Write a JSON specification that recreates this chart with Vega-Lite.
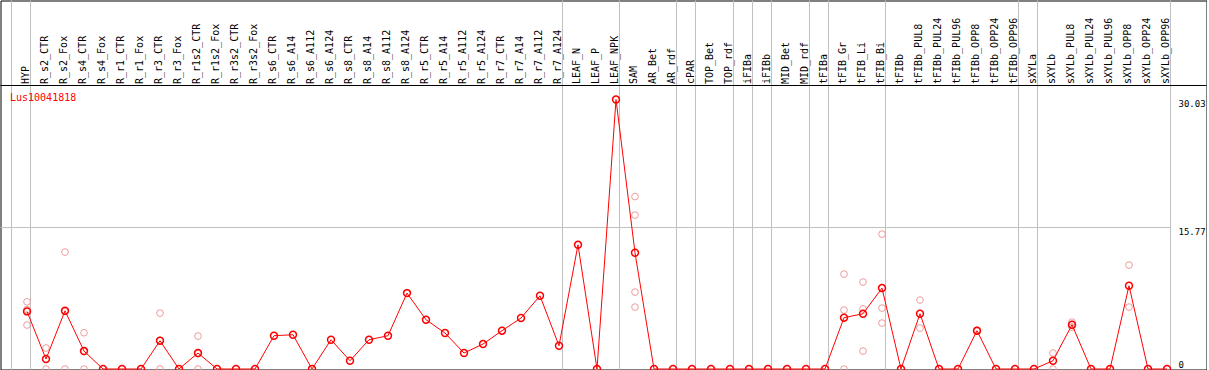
{
  "$schema": "https://vega.github.io/schema/vega-lite/v6.json",
  "autosize": "none",
  "padding": {"left": 0.5, "top": 0.5, "right": 0, "bottom": 0},
  "width": 1206,
  "height": 369,
  "background": "white",
  "title": {"text": "Lus10041818", "anchor": "start", "frame": "group", "orient": "top", "offset": -103, "baseline": "top", "color": "#ff0000", "font": "DejaVu Sans Mono", "fontSize": 10, "fontWeight": "normal", "dx": 9.5},
  "config": {"view": {"stroke": "#000000", "strokeWidth": 1}},
  "datasets": {
    "cats": [
      {"cat": "HYP"}, {"cat": "R_s2_CTR"}, {"cat": "LEAF_N"}, {"cat": "SAM"}, {"cat": "cPAR"}, {"cat": "TOP_Bet"}, {"cat": "iFIBa"}, {"cat": "iFIBb"}, {"cat": "MID_Bet"}, {"cat": "tFIBa"}, {"cat": "tFIB_Gr"}, {"cat": "tFIBb"}, {"cat": "sXYLa"}, {"cat": "sXYLb"}
    ],
    "means": [
      {"cat": "HYP", "v": 6.42}, {"cat": "R_s2_CTR", "v": 1.11}, {"cat": "R_s2_Fox", "v": 6.49}, {"cat": "R_s4_CTR", "v": 2.0}, {"cat": "R_s4_Fox", "v": 0}, {"cat": "R_r1_CTR", "v": 0}, {"cat": "R_r1_Fox", "v": 0}, {"cat": "R_r3_CTR", "v": 3.15}, {"cat": "R_r3_Fox", "v": 0}, {"cat": "R_r1s2_CTR", "v": 1.78}, {"cat": "R_r1s2_Fox", "v": 0}, {"cat": "R_r3s2_CTR", "v": 0}, {"cat": "R_r3s2_Fox", "v": 0},
      {"cat": "R_s6_CTR", "v": 3.71}, {"cat": "R_s6_A14", "v": 3.82}, {"cat": "R_s6_A112", "v": 0}, {"cat": "R_s6_A124", "v": 3.26},
      {"cat": "R_s8_CTR", "v": 0.92}, {"cat": "R_s8_A14", "v": 3.26}, {"cat": "R_s8_A112", "v": 3.71}, {"cat": "R_s8_A124", "v": 8.46},
      {"cat": "R_r5_CTR", "v": 5.49}, {"cat": "R_r5_A14", "v": 4.01}, {"cat": "R_r5_A112", "v": 1.78}, {"cat": "R_r5_A124", "v": 2.78},
      {"cat": "R_r7_CTR", "v": 4.27}, {"cat": "R_r7_A14", "v": 5.68}, {"cat": "R_r7_A112", "v": 8.16}, {"cat": "R_r7_A124", "v": 2.59},
      {"cat": "LEAF_N", "v": 13.84}, {"cat": "LEAF_P", "v": 0}, {"cat": "LEAF_NPK", "v": 30.03},
      {"cat": "SAM", "v": 12.96}, {"cat": "AR_Bet", "v": 0}, {"cat": "AR_rdf", "v": 0}, {"cat": "cPAR", "v": 0}, {"cat": "TOP_Bet", "v": 0}, {"cat": "TOP_rdf", "v": 0},
      {"cat": "iFIBa", "v": 0}, {"cat": "iFIBb", "v": 0}, {"cat": "MID_Bet", "v": 0}, {"cat": "MID_rdf", "v": 0}, {"cat": "tFIBa", "v": 0},
      {"cat": "tFIB_Gr", "v": 5.72}, {"cat": "tFIB_Li", "v": 6.16}, {"cat": "tFIB_Bi", "v": 9.02},
      {"cat": "tFIBb", "v": 0}, {"cat": "tFIBb_PUL8", "v": 6.16}, {"cat": "tFIBb_PUL24", "v": 0}, {"cat": "tFIBb_PUL96", "v": 0}, {"cat": "tFIBb_OPP8", "v": 4.27}, {"cat": "tFIBb_OPP24", "v": 0}, {"cat": "tFIBb_OPP96", "v": 0},
      {"cat": "sXYLa", "v": 0}, {"cat": "sXYLb", "v": 0.92}, {"cat": "sXYLb_PUL8", "v": 4.93}, {"cat": "sXYLb_PUL24", "v": 0}, {"cat": "sXYLb_PUL96", "v": 0}, {"cat": "sXYLb_OPP8", "v": 9.28}, {"cat": "sXYLb_OPP24", "v": 0}, {"cat": "sXYLb_OPP96", "v": 0}
    ],
    "reps": [
      {"cat": "HYP", "v": 7.49}, {"cat": "HYP", "v": 6.62}, {"cat": "HYP", "v": 4.9},
      {"cat": "R_s2_CTR", "v": 2.34}, {"cat": "R_s2_CTR", "v": 0},
      {"cat": "R_s2_Fox", "v": 13.03}, {"cat": "R_s2_Fox", "v": 0}, {"cat": "R_s2_Fox", "v": 6.4},
      {"cat": "R_s4_CTR", "v": 4.04}, {"cat": "R_s4_CTR", "v": 0}, {"cat": "R_s4_CTR", "v": 1.95},
      {"cat": "R_r3_CTR", "v": 6.23}, {"cat": "R_r3_CTR", "v": 0}, {"cat": "R_r3_CTR", "v": 3.2},
      {"cat": "R_r1s2_CTR", "v": 3.67}, {"cat": "R_r1s2_CTR", "v": 0}, {"cat": "R_r1s2_CTR", "v": 1.7},
      {"cat": "SAM", "v": 19.22}, {"cat": "SAM", "v": 17.15}, {"cat": "SAM", "v": 8.57}, {"cat": "SAM", "v": 6.9},
      {"cat": "tFIB_Gr", "v": 10.58}, {"cat": "tFIB_Gr", "v": 6.57}, {"cat": "tFIB_Gr", "v": 0},
      {"cat": "tFIB_Li", "v": 9.69}, {"cat": "tFIB_Li", "v": 6.71}, {"cat": "tFIB_Li", "v": 2.0},
      {"cat": "tFIB_Bi", "v": 15.03}, {"cat": "tFIB_Bi", "v": 6.79}, {"cat": "tFIB_Bi", "v": 5.12},
      {"cat": "tFIBb_PUL8", "v": 7.68}, {"cat": "tFIBb_PUL8", "v": 4.56},
      {"cat": "tFIBb_OPP8", "v": 4.32}, {"cat": "tFIBb_OPP8", "v": 4.22},
      {"cat": "sXYLb", "v": 1.78}, {"cat": "sXYLb", "v": 0},
      {"cat": "sXYLb_PUL8", "v": 5.23}, {"cat": "sXYLb_PUL8", "v": 4.67},
      {"cat": "sXYLb_OPP8", "v": 11.58}, {"cat": "sXYLb_OPP8", "v": 6.9}
    ]
  },
  "layer": [
    {
      "data": {"name": "cats"},
      "mark": {"type": "rule", "color": "#c0c0c0", "strokeWidth": 1, "xOffset": -15.5},
      "encoding": {"x": {"field": "cat", "type": "nominal", "sort": null}}
    },
    {
      "data": {"values": [{}]},
      "mark": {"type": "rule", "color": "#c0c0c0", "strokeWidth": 1, "xOffset": 3.5},
      "encoding": {"x": {"datum": "sXYLb_OPP96", "type": "nominal"}}
    },
    {
      "data": {"values": [{}]},
      "mark": {"type": "rule", "color": "#c0c0c0", "strokeWidth": 1, "xOffset": -26.5, "x2Offset": 3.5},
      "encoding": {
        "x": {"datum": "HYP", "type": "nominal"},
        "x2": {"datum": "sXYLb_OPP96"},
        "y": {"datum": 15.77, "type": "quantitative"}
      }
    },
    {
      "data": {"values": [{}]},
      "mark": {"type": "rule", "color": "#000000", "strokeWidth": 1},
      "encoding": {"y": {"datum": 31.6, "type": "quantitative"}}
    },
    {
      "data": {"name": "reps"},
      "mark": {"type": "point", "shape": "circle", "filled": false, "color": "#ee9c9c", "strokeWidth": 1, "size": 45, "opacity": 1},
      "encoding": {
        "x": {"field": "cat", "type": "nominal", "sort": null},
        "y": {"field": "v", "type": "quantitative"}
      }
    },
    {
      "data": {"name": "means"},
      "mark": {"type": "line", "color": "#ff0000", "strokeWidth": 1},
      "encoding": {
        "x": {"field": "cat", "type": "nominal", "sort": null},
        "y": {"field": "v", "type": "quantitative"}
      }
    },
    {
      "data": {"name": "means"},
      "mark": {"type": "point", "shape": "circle", "filled": false, "color": "#ff0000", "strokeWidth": 1.5, "size": 48, "opacity": 1},
      "encoding": {
        "x": {
          "field": "cat", "type": "nominal", "sort": null,
          "scale": {"type": "point", "padding": 0, "domain": ["HYP","R_s2_CTR","R_s2_Fox","R_s4_CTR","R_s4_Fox","R_r1_CTR","R_r1_Fox","R_r3_CTR","R_r3_Fox","R_r1s2_CTR","R_r1s2_Fox","R_r3s2_CTR","R_r3s2_Fox","R_s6_CTR","R_s6_A14","R_s6_A112","R_s6_A124","R_s8_CTR","R_s8_A14","R_s8_A112","R_s8_A124","R_r5_CTR","R_r5_A14","R_r5_A112","R_r5_A124","R_r7_CTR","R_r7_A14","R_r7_A112","R_r7_A124","LEAF_N","LEAF_P","LEAF_NPK","SAM","AR_Bet","AR_rdf","cPAR","TOP_Bet","TOP_rdf","iFIBa","iFIBb","MID_Bet","MID_rdf","tFIBa","tFIB_Gr","tFIB_Li","tFIB_Bi","tFIBb","tFIBb_PUL8","tFIBb_PUL24","tFIBb_PUL96","tFIBb_OPP8","tFIBb_OPP24","tFIBb_OPP96","sXYLa","sXYLb","sXYLb_PUL8","sXYLb_PUL24","sXYLb_PUL96","sXYLb_OPP8","sXYLb_OPP24","sXYLb_OPP96"], "range": [26.5, 1166.5]},
          "axis": {"orient": "top", "offset": -85, "title": null, "ticks": false, "domain": false, "grid": false, "labelAngle": -90, "labelAlign": "left", "labelBaseline": "middle", "labelOffset": -2, "labelPadding": 2, "labelFont": "DejaVu Sans Mono", "labelFontSize": 10, "labelColor": "#000000", "labelOverlap": false, "labelLimit": 200}
        },
        "y": {
          "field": "v", "type": "quantitative",
          "scale": {"domain": [0, 31.6], "range": [368.5, 85], "nice": false, "zero": true},
          "axis": {"orient": "right", "offset": -36, "title": null, "ticks": false, "domain": false, "grid": false, "values": [0, 15.77, 30.03], "format": ".2~f", "labelAlign": "left", "labelPadding": 7.5, "labelFont": "DejaVu Sans Mono", "labelFontSize": 9, "labelColor": "#000000", "labelOverlap": false, "labelBaseline": {"condition": {"test": "datum.value == 0", "value": "bottom"}, "value": "top"}}
        }
      }
    }
  ]
}
